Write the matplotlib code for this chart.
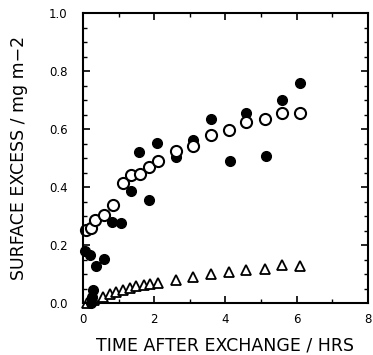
import matplotlib
matplotlib.use("Agg")
import matplotlib.pyplot as plt
from matplotlib.ticker import MultipleLocator

# open circles
t_open = [0.09, 0.23, 0.33, 0.59, 0.84, 1.12, 1.36, 1.59, 1.84, 2.1,
          2.6, 3.09, 3.6, 4.1, 4.58, 5.1, 5.59, 6.08]
v_open = [0.251, 0.259, 0.288, 0.303, 0.338, 0.415, 0.441, 0.444, 0.470, 0.490,
          0.525, 0.541, 0.582, 0.597, 0.626, 0.635, 0.657, 0.657]

# filled circles
t_fill = [0.06, 0.2, 0.37, 0.6, 0.22, 0.25, 0.27, 0.82, 1.08, 1.34, 1.57, 1.84,
          2.08, 2.6, 3.09, 3.6, 4.12, 4.58, 5.13, 5.59, 6.08]
v_fill = [0.18, 0.165, 0.128, 0.153, 0.0, 0.02, 0.046, 0.28, 0.278, 0.387, 0.52, 0.357,
          0.551, 0.505, 0.562, 0.634, 0.491, 0.657, 0.508, 0.700, 0.76]

# triangles
t_tri = [0.1, 0.3, 0.56, 0.76, 0.93, 1.12, 1.32, 1.5, 1.7, 1.88, 2.1,
         2.6, 3.09, 3.6, 4.1, 4.58, 5.1, 5.59, 6.08]
v_tri = [0.0, 0.01, 0.022, 0.03, 0.037, 0.045, 0.053, 0.06, 0.063, 0.066, 0.069,
         0.078, 0.09, 0.101, 0.107, 0.113, 0.119, 0.13, 0.128]

plt.rcParams['font.family'] = ['DejaVu Sans']

fig = plt.figure(figsize=(3.73, 3.55), dpi=100)
ax = fig.add_axes([0.2225, 0.1465, 0.764, 0.8155])

ax.plot(t_tri, v_tri, '^', ms=6.5, mfc='white', mec='black', mew=1.3, clip_on=False)
ax.plot(t_fill, v_fill, 'o', ms=7, mfc='black', mec='black', clip_on=False)
ax.plot(t_open, v_open, 'o', ms=8, mfc='white', mec='black', mew=1.5, clip_on=False)

ax.set_xlim(0, 8)
ax.set_ylim(0, 1.0)
ax.xaxis.set_major_locator(MultipleLocator(2))
ax.xaxis.set_minor_locator(MultipleLocator(1))
ax.yaxis.set_major_locator(MultipleLocator(0.2))
ax.yaxis.set_minor_locator(MultipleLocator(0.05))
ax.set_yticklabels(['%.1f' % v for v in ax.get_yticks()])

ax.tick_params(which='both', direction='in', top=True, right=True, labelsize=8.5)
ax.tick_params(axis='y', pad=11)
ax.tick_params(axis='x', pad=7)
ax.tick_params(which='major', length=5, width=1.2)
ax.tick_params(which='minor', length=3, width=1)
for s in ax.spines.values():
    s.set_linewidth(1.5)

ax.set_xlabel('TIME AFTER EXCHANGE / HRS', fontsize=12.5, labelpad=8)
ax.set_ylabel('SURFACE EXCESS / mg m\u22122', fontsize=12.5, labelpad=15)

fig.savefig('out.png', dpi=100)
